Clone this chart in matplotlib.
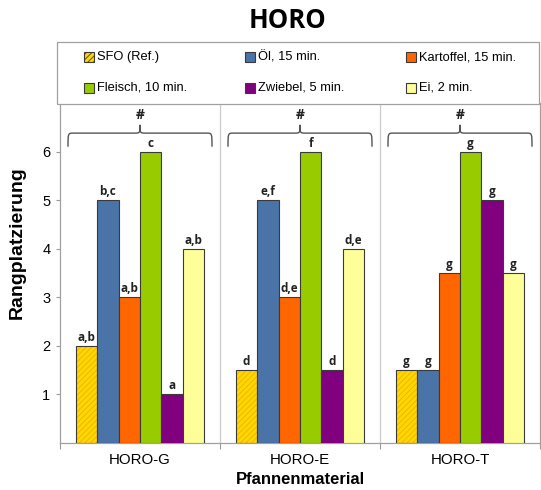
import matplotlib
matplotlib.use("Agg")
import matplotlib.pyplot as plt
from matplotlib.path import Path
from matplotlib.patches import PathPatch, Rectangle
import numpy as np

plt.rcParams["font.family"] = ["Liberation Sans", "DejaVu Sans"]
plt.rcParams["hatch.linewidth"] = 0.6

groups = ["HORO-G", "HORO-E", "HORO-T"]
series = ["SFO (Ref.)", "Öl, 15 min.", "Kartoffel, 15 min.",
          "Fleisch, 10 min.", "Zwiebel, 5 min.", "Ei, 2 min."]
colors = ["#FFD700", "#4A74A8", "#FF6600", "#99CC00", "#800080", "#FFFF99"]

# Rank per series, one entry per pan material (G, E, T)
sfo = [2, 1.5, 1.5]
oel = [5, 5, 1.5]
kartoffel = [3, 3, 3.5]
fleisch = [6, 6, 6]
zwiebel = [1, 1.5, 5]
ei = [4, 4, 3.5]
values = [sfo, oel, kartoffel, fleisch, zwiebel, ei]

# Significance letters per series
sig_sfo = ["a,b", "d", "g"]
sig_oel = ["b,c", "e,f", "g"]
sig_kartoffel = ["a,b", "d,e", "g"]
sig_fleisch = ["c", "f", "g"]
sig_zwiebel = ["a", "d", "g"]
sig_ei = ["a,b", "d,e", "g"]
letters = [sig_sfo, sig_oel, sig_kartoffel, sig_fleisch, sig_zwiebel, sig_ei]

yticks = [1, 2, 3, 4, 5, 6]

W, H = 541, 490
fig = plt.figure(figsize=(W / 100, H / 100), dpi=100)
ax = fig.add_axes([60 / W, 47 / H, 480 / W, 340 / H])

n = len(series)
bw = 0.134
centers = np.arange(len(groups)) + 0.5
edge = "#3a3a3a"
HATCH = "//////"

for i, (vals, col, labs) in enumerate(zip(values, colors, letters)):
    x = centers + (i - (n - 1) / 2) * bw
    if i == 0:
        ax.bar(x, vals, bw, color=col, edgecolor="#F0B000", hatch=HATCH,
               linewidth=0, zorder=2)
        ax.bar(x, vals, bw, fill=False, edgecolor=edge, linewidth=0.8, zorder=3)
    else:
        ax.bar(x, vals, bw, color=col, edgecolor=edge, linewidth=0.8, zorder=3)
    for xi, v, t in zip(x, vals, labs):
        ax.text(xi, v + 0.04, t, ha="center", va="bottom", fontsize=8.5,
                fontweight="bold", family=["Open Sans", "DejaVu Sans"],
                color="#222222", zorder=4)

# group separators
for b in [1, 2]:
    ax.axvline(b, color="#cccccc", linewidth=0.9, zorder=1)

# curly braces with '#' above each group
def brace(x0, x1, ybase, ymid, ytip):
    xc = (x0 + x1) / 2
    r = 0.035
    verts = [
        (x0, ybase), (x0, ymid), (x0, ymid), (x0 + r, ymid),
        (xc - r, ymid),
        (xc, ymid), (xc, ymid), (xc, ytip),
        (xc, ymid), (xc, ymid), (xc + r, ymid),
        (x1 - r, ymid),
        (x1, ymid), (x1, ymid), (x1, ybase),
    ]
    codes = [Path.MOVETO, Path.CURVE4, Path.CURVE4, Path.CURVE4,
             Path.LINETO,
             Path.CURVE4, Path.CURVE4, Path.CURVE4,
             Path.CURVE4, Path.CURVE4, Path.CURVE4,
             Path.LINETO,
             Path.CURVE4, Path.CURVE4, Path.CURVE4]
    return PathPatch(Path(verts, codes), fill=False, edgecolor="#555555",
                     linewidth=1.0, zorder=4, clip_on=False)

for g in range(len(groups)):
    ax.add_patch(brace(g + 0.05, g + 0.95, 6.1, 6.38, 6.55))
    ax.text(g + 0.5, 6.6, "#", ha="center", va="bottom", fontsize=10,
            fontweight="bold", family=["Open Sans", "DejaVu Sans"], color="#222222")

ax.set_xlim(0, 3)
ax.set_ylim(0, 7)
ax.set_yticks(yticks)
ax.set_yticklabels([str(t) for t in yticks], fontsize=10.5)
ax.set_xticks([0, 1, 2, 3])
ax.set_xticklabels([])
ax.set_xticks(centers, minor=True)
ax.set_xticklabels(groups, minor=True, fontsize=10.8)
ax.tick_params(axis="x", which="minor", length=0, pad=7)
ax.tick_params(axis="x", which="major", length=4, color="#999999")
ax.tick_params(axis="y", length=3, color="#999999", pad=4)
for s in ax.spines.values():
    s.set_color("#a0a0a0")
    s.set_linewidth(0.9)

ax.set_ylabel("Rangplatzierung", fontsize=14, fontweight="bold")
ax.yaxis.set_label_coords(-0.071, 0.588)
ax.set_xlabel("Pfannenmaterial", fontsize=12, fontweight="bold", labelpad=4)

fig.text(287 / W, 1 - 21 / H, "HORO", ha="center", va="center", fontsize=18.5,
         fontweight="bold", family=["Open Sans", "DejaVu Sans"])

# legend box, three columns by two rows
def px(x, y):
    return (x / W, 1 - y / H)

fig.add_artist(Rectangle(px(57, 104), 482 / W, 62 / H, transform=fig.transFigure,
                         facecolor="white", edgecolor="#a0a0a0", linewidth=0.9))
col_x = [84, 245, 406]
row_y = [57, 88]
for k, (lab, col) in enumerate(zip(series, colors)):
    cx = col_x[k % 3]
    cy = row_y[k // 3]
    fig.add_artist(Rectangle(px(cx, cy + 5), 10 / W, 10 / H, transform=fig.transFigure,
                             facecolor=col, edgecolor=edge, linewidth=0.8,
                             hatch=HATCH if k == 0 else None))
    fig.text(*px(cx + 13, cy), lab, ha="left", va="center", fontsize=9.3)

fig.savefig("out.png", dpi=100)
